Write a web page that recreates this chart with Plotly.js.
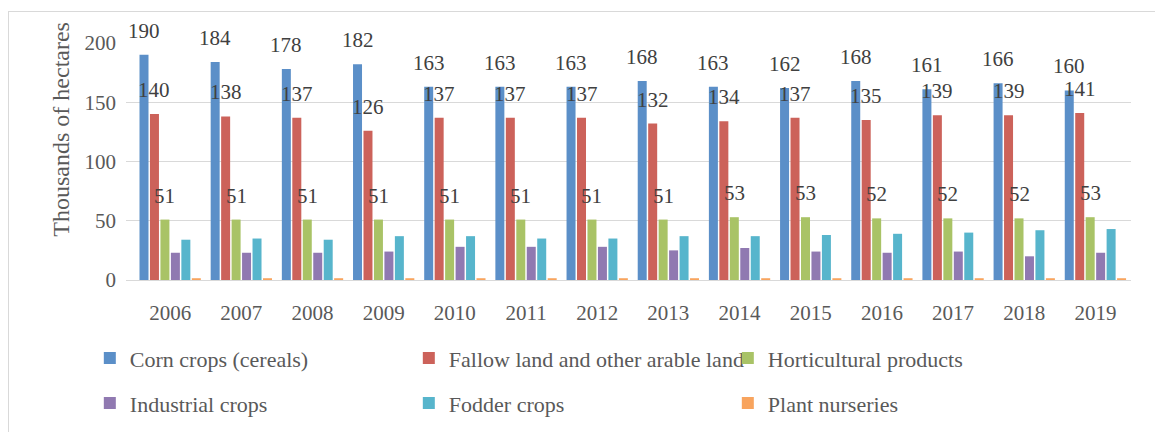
<!DOCTYPE html>
<html>
<head>
<meta charset="utf-8">
<script src="https://cdn.plot.ly/plotly-3.0.1.min.js"></script>
<style>
  html, body { margin:0; padding:0; background:#fff; overflow:hidden; }
  #wrap { position:relative; width:1155px; height:433px; }
  #frame { position:absolute; left:8px; top:11px; width:1160px; height:420px; border-left:1px solid #d9d9d9; border-top:1px solid #d9d9d9; pointer-events:none; z-index:5; }
  #chart { position:absolute; left:0; top:0; width:1155px; height:433px; }
</style>
</head>
<body>
<div id="wrap">
  <div id="chart"></div>
  <div id="frame"></div>
</div>
<script>
const years = ['2006','2007','2008','2009','2010','2011','2012','2013','2014','2015','2016','2017','2018','2019'];
const seriesNames = ['Corn crops (cereals)','Fallow land and other arable land','Horticultural products','Industrial crops','Fodder crops','Plant nurseries'];
const corn = [190,184,178,182,163,163,163,168,163,162,168,161,166,160];
const fallow = [140,138,137,126,137,137,137,132,134,137,135,139,139,141];
const horticultural = [51,51,51,51,51,51,51,51,53,53,52,52,52,53];
const industrial = [23,23,23,24,28,28,28,25,27,24,23,24,20,23];
const fodder = [34,35,34,37,37,35,35,37,37,38,39,40,42,43];
const nurseries = [1.5,1.5,1.5,1.5,1.5,1.5,1.5,1.5,1.5,1.5,1.5,1.5,1.5,1.5];
const colors = ['#5b8fc8','#cc625a','#a9c366','#9079b1','#57b5cc','#f8a45e'];
const labeledSeries = [0,1,2];

const allValues = [corn, fallow, horticultural, industrial, fodder, nurseries];
const font = 'Liberation Serif';
const grey = '#595959';

const bargap = 0.118, bargroupgap = 0.14;
const nS = allValues.length;
const slot = (1 - bargap) / nS;

const traces = allValues.map((vals, k) => ({
  type: 'bar',
  name: seriesNames[k],
  x: years,
  y: vals,
  marker: { color: colors[k] },
  legend: k < 3 ? 'legend' : 'legend2',
  hoverinfo: 'x+y+name'
}));

const annotations = [];
labeledSeries.forEach(k => {
  const off = -(1 - bargap) / 2 + (k + 0.5) * slot;
  allValues[k].forEach((v, i) => {
    annotations.push({
      xref: 'x', yref: 'y', x: i + off, y: v,
      text: String(v), showarrow: false, yshift: 24,
      font: { family: font, size: 21, color: '#404040' }
    });
  });
});
annotations.push({
  xref: 'paper', yref: 'paper', x: -0.08, y: 0.637,
  text: 'Thousands of hectares', textangle: -90, showarrow: false,
  font: { family: font, size: 24, color: grey }
});

function legendOpts(x, y) {
  return {
    orientation: 'h', xref: 'paper', yref: 'paper', xanchor: 'left', yanchor: 'middle',
    x: x, y: y,
    entrywidth: 274, entrywidthmode: 'pixels',
    font: { family: font, size: 22, color: grey },
    bgcolor: 'rgba(0,0,0,0)', itemclick: false, itemdoubleclick: false
  };
}

const layout = {
  width: 1155, height: 433,
  margin: { l: 126, r: 24, t: 43, b: 153, autoexpand: false },
  paper_bgcolor: '#fff', plot_bgcolor: '#fff',
  barmode: 'group', bargap: bargap, bargroupgap: bargroupgap,
  font: { family: font, color: grey },
  showlegend: true,
  legend: legendOpts(-0.036, -0.33),
  legend2: legendOpts(-0.036, -0.52),
  xaxis: {
    type: 'category', showgrid: false, zeroline: false, automargin: false,
    showline: true, linecolor: '#d9d9d9', linewidth: 1,
    ticks: '', ticklabelstandoff: 14,
    tickfont: { family: font, size: 21, color: grey }
  },
  yaxis: {
    range: [0, 200], tickvals: [0,50,100,150,200], automargin: false,
    showgrid: true, gridcolor: '#d9d9d9', gridwidth: 1,
    zeroline: false, showline: false, ticks: '', ticklabelstandoff: 9,
    tickfont: { family: font, size: 21, color: grey }
  },
  annotations: annotations
};

Plotly.newPlot('chart', traces, layout, { displayModeBar: false, staticPlot: true });
</script>
</body>
</html>
